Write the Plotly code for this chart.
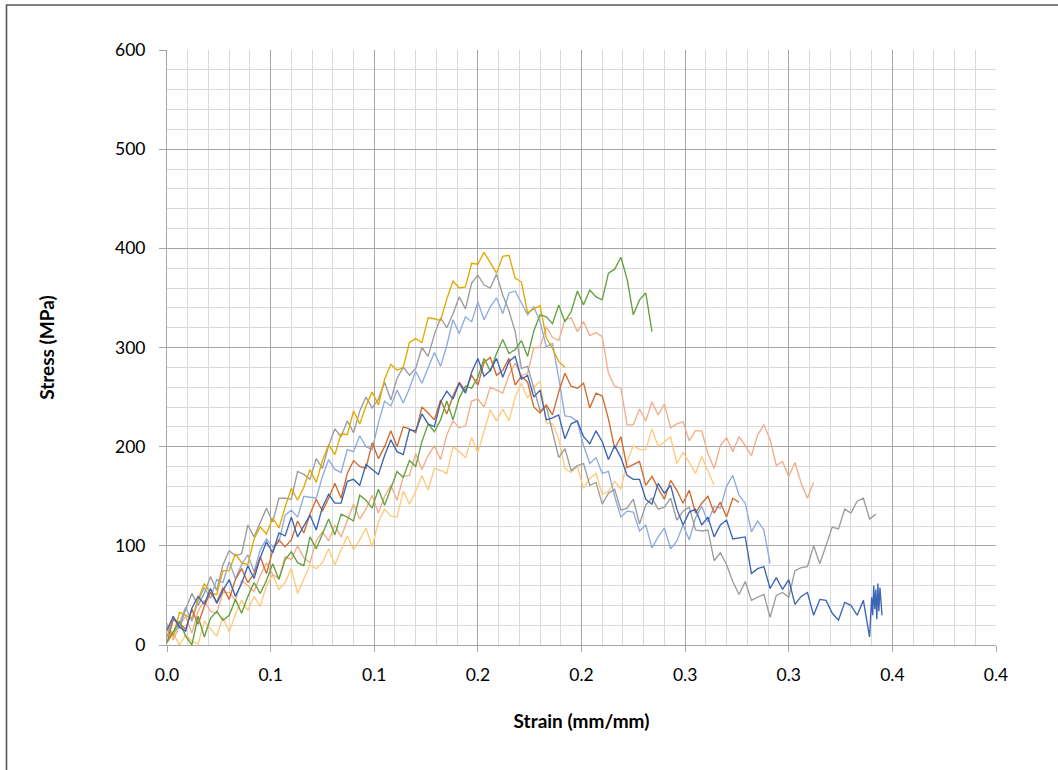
import plotly.graph_objects as go

# Strain sampling grid (mm/mm)
STRAIN = [
    0.000, 0.003, 0.006, 0.009, 0.012, 0.015, 0.018, 0.021, 0.024, 0.027,
    0.030, 0.033, 0.036, 0.039, 0.042, 0.045, 0.048, 0.051, 0.054, 0.057,
    0.060, 0.063, 0.066, 0.069, 0.072, 0.075, 0.078, 0.081, 0.084, 0.087,
    0.090, 0.093, 0.096, 0.099, 0.102, 0.105, 0.108, 0.111, 0.114, 0.117,
    0.120, 0.123, 0.126, 0.129, 0.132, 0.135, 0.138, 0.141, 0.144, 0.147,
    0.150, 0.153, 0.156, 0.159, 0.162, 0.165, 0.168, 0.171, 0.174, 0.177,
    0.180, 0.183, 0.186, 0.189, 0.192, 0.195, 0.198, 0.201, 0.204, 0.207,
    0.210, 0.213, 0.216, 0.219, 0.222, 0.225, 0.228, 0.231, 0.234, 0.237,
    0.240, 0.243, 0.246, 0.249, 0.252, 0.255, 0.258, 0.261, 0.264, 0.267,
    0.270, 0.273, 0.276, 0.279, 0.282, 0.285, 0.288, 0.291, 0.294, 0.297,
    0.300, 0.303, 0.306, 0.309, 0.312, 0.315, 0.318, 0.321, 0.324, 0.327,
    0.330, 0.333, 0.336, 0.339, 0.342, 0.345,
]

# Stress (MPa) per specimen
STRESS_PEACH = [
    2, 12, 0, 10, 4, 1, 24, 17, 9, 28,
    13, 31, 45, 35, 49, 39, 60, 71, 56, 63,
    77, 52, 67, 81, 77, 83, 97, 81, 96, 110,
    96, 106, 118, 99, 124, 137, 130, 129, 155, 142,
    155, 171, 156, 178, 176, 173, 200, 195, 189, 209,
    194, 216, 237, 226, 238, 226, 250, 264, 249, 260,
    266, 224, 223, 208, 178, 174, 180, 158, 168, 173,
    152, 155, 165, 157, 185, 201, 197, 197, 218, 200,
    205, 210, 183, 194, 184, 173, 190, 176, 161,
]

STRESS_SALMON = [
    22, 5, 19, 29, 12, 34, 45, 34, 32, 53,
    53, 45, 65, 60, 54, 70, 83, 71, 67, 89,
    86, 100, 88, 83, 105, 114, 105, 121, 109, 126,
    142, 127, 137, 151, 133, 150, 161, 146, 170, 171,
    193, 177, 191, 201, 187, 212, 226, 219, 221, 246,
    248, 240, 260, 257, 254, 272, 284, 272, 274, 300,
    300, 321, 310, 307, 328, 330, 316, 326, 312, 315,
    311, 274, 261, 259, 222, 222, 238, 226, 245, 232,
    243, 219, 223, 225, 206, 216, 216, 193, 178, 201,
    209, 195, 210, 201, 191, 212, 222, 207, 181, 185,
    170, 184, 163, 148, 164,
]

STRESS_LIGHTBLUE = [
    20, 10, 22, 38, 24, 44, 58, 47, 66, 63,
    84, 67, 81, 91, 74, 96, 107, 99, 104, 131,
    136, 129, 150, 149, 148, 170, 187, 177, 174, 197,
    195, 211, 200, 197, 224, 246, 241, 257, 244, 259,
    276, 264, 279, 295, 281, 302, 328, 314, 331, 326,
    346, 328, 341, 350, 334, 355, 357, 345, 333, 341,
    326, 301, 304, 269, 231, 230, 225, 201, 183, 189,
    173, 175, 150, 129, 135, 134, 115, 121, 98, 109,
    118, 97, 105, 121, 106, 128, 140, 124, 140, 138,
    160, 171, 151, 143, 114, 125, 116, 82,
]

STRESS_GRAY = [
    8, 28, 17, 36, 52, 40, 52, 69, 55, 81,
    95, 90, 92, 121, 109, 123, 138, 124, 148, 148,
    147, 175, 172, 167, 188, 178, 201, 218, 210, 226,
    214, 236, 250, 239, 248, 265, 247, 269, 280, 272,
    279, 300, 291, 313, 330, 320, 334, 351, 339, 365,
    373, 363, 360, 374, 353, 337, 316, 279, 281, 259,
    236, 241, 216, 189, 198, 176, 181, 183, 161, 164,
    142, 153, 157, 136, 138, 147, 122, 141, 148, 137,
    139, 148, 126, 135, 139, 116, 115, 116, 85, 93,
    81, 64, 51, 64, 45, 48, 51, 28, 50, 53,
    48, 75, 78, 79, 100, 82, 101, 119, 117, 137,
    133, 145, 148, 127, 132,
]

STRESS_GOLD = [
    15, 9, 33, 30, 27, 46, 62, 52, 51, 75,
    75, 92, 83, 81, 107, 119, 112, 128, 118, 139,
    158, 146, 159, 177, 164, 186, 202, 192, 213, 212,
    236, 223, 241, 255, 242, 268, 283, 277, 280, 305,
    309, 305, 330, 329, 327, 349, 367, 360, 361, 385,
    384, 396, 385, 375, 392, 393, 370, 366, 335, 339,
    342, 310, 299, 286, 280,
]

STRESS_ORANGE = [
    2, 26, 22, 16, 36, 21, 39, 53, 43, 58,
    46, 66, 77, 63, 72, 89, 72, 95, 106, 99,
    106, 125, 113, 132, 147, 135, 148, 163, 148, 173,
    186, 180, 178, 204, 188, 200, 216, 200, 220, 218,
    214, 240, 234, 227, 247, 233, 251, 265, 256, 272,
    262, 285, 290, 272, 277, 289, 262, 271, 265, 240,
    234, 242, 232, 255, 274, 261, 259, 264, 239, 254,
    251, 228, 198, 210, 179, 182, 185, 161, 170, 158,
    147, 166, 156, 143, 156, 133, 143, 150, 133, 144,
    129, 148, 144,
]

STRESS_GREEN = [
    3, 13, 24, 9, 0, 29, 8, 27, 34, 25,
    30, 46, 32, 49, 63, 52, 65, 82, 66, 86,
    94, 83, 80, 109, 97, 112, 127, 111, 132, 129,
    125, 151, 146, 138, 157, 141, 158, 175, 169, 186,
    180, 205, 223, 215, 227, 246, 227, 249, 261, 259,
    270, 289, 276, 294, 308, 294, 298, 307, 291, 317,
    333, 331, 324, 343, 326, 336, 357, 343, 358, 351,
    348, 375, 379, 391, 369, 333, 348, 355, 316,
]

STRESS_BLUE = [
    15, 29, 18, 14, 37, 49, 41, 57, 42, 55,
    66, 49, 62, 80, 67, 88, 104, 93, 113, 110,
    129, 109, 120, 131, 116, 139, 152, 143, 143, 165,
    167, 161, 182, 177, 172, 191, 207, 195, 192, 217,
    216, 233, 223, 220, 245, 256, 248, 264, 254, 275,
    289, 271, 277, 289, 270, 286, 291, 268, 272, 250,
    257, 227, 229, 232, 208, 223, 226, 210, 203, 216,
    205, 187, 201, 189, 171, 167, 167, 147, 142, 163,
    153, 161, 137, 121, 134, 137, 121, 129, 109, 121,
    126, 107, 108, 109, 72, 77, 79, 57, 68, 56,
    66, 41, 49, 53, 30, 46, 45, 32, 25, 43,
    40, 30, 45, 8,
]
# dense end of the blue record
BLUE_TAIL_STRAIN = [0.3400, 0.3405, 0.3410, 0.3415, 0.3420, 0.3425,
                    0.3430, 0.3435, 0.3440, 0.3445, 0.3450]
BLUE_TAIL_STRESS = [48, 30, 60, 36, 56, 26, 62, 34, 58, 40, 30]

X_TICK_VALUES = [0.0, 0.05, 0.10, 0.15, 0.20, 0.25, 0.30, 0.35, 0.40]
X_TICK_LABELS = ["0.0", "0.1", "0.1", "0.2", "0.2", "0.3", "0.3", "0.4", "0.4"]
Y_TICK_VALUES = [0, 100, 200, 300, 400, 500, 600]
Y_TICK_LABELS = ["0", "100", "200", "300", "400", "500", "600"]

SERIES = [
    ("Specimen 8", STRAIN[:len(STRESS_PEACH)], STRESS_PEACH, "#FFC97A"),
    ("Specimen 7", STRAIN[:len(STRESS_SALMON)], STRESS_SALMON, "#F3AC88"),
    ("Specimen 5", STRAIN[:len(STRESS_LIGHTBLUE)], STRESS_LIGHTBLUE, "#8FAADC"),
    ("Specimen 3", STRAIN[:len(STRESS_GRAY)], STRESS_GRAY, "#9C9C9C"),
    ("Specimen 4", STRAIN[:len(STRESS_GOLD)], STRESS_GOLD, "#E2A900"),
    ("Specimen 2", STRAIN[:len(STRESS_ORANGE)], STRESS_ORANGE, "#D4692C"),
    ("Specimen 6", STRAIN[:len(STRESS_GREEN)], STRESS_GREEN, "#64A03C"),
    ("Specimen 1", STRAIN[:len(STRESS_BLUE)] + BLUE_TAIL_STRAIN,
     STRESS_BLUE + BLUE_TAIL_STRESS, "#3A64B4"),
]

W, H = 1058, 770
L, R, T, B = 167, 62, 50, 125
PW, PH = W - L - R, H - T - B

fig = go.Figure()
for name, xs, ys, color in SERIES:
    fig.add_trace(go.Scatter(x=xs, y=ys, mode="lines", name=name,
                             line=dict(color=color, width=1.35),
                             showlegend=False, hoverinfo="skip"))

FONT = "Lato, 'Open Sans', sans-serif"
fig.update_layout(
    width=W, height=H,
    margin=dict(l=L, r=R, t=T, b=B, pad=0),
    paper_bgcolor="white", plot_bgcolor="white",
    font=dict(family=FONT, color="#000000"),
    xaxis=dict(
        range=[0, 0.4], tickmode="array", tickvals=X_TICK_VALUES, ticktext=X_TICK_LABELS,
        showgrid=True, gridcolor="#A6A6A6", gridwidth=1,
        minor=dict(dtick=0.01, showgrid=True, gridcolor="#D9D9D9", gridwidth=1,
                   ticks=""),
        ticks="outside", ticklen=6, tickcolor="#A6A6A6", tickwidth=1,
        showline=True, linecolor="#A6A6A6", linewidth=1, zeroline=False,
        tickfont=dict(size=17.5, family=FONT, color="#000000"),
        ticklabelstandoff=8,
        title=dict(text="Strain (mm/mm)", standoff=30,
                   font=dict(size=19, family=FONT, weight="bold", color="#000000")),
    ),
    yaxis=dict(
        range=[0, 600], tickmode="array", tickvals=Y_TICK_VALUES, ticktext=Y_TICK_LABELS,
        showgrid=True, gridcolor="#A6A6A6", gridwidth=1,
        minor=dict(dtick=20, showgrid=True, gridcolor="#D9D9D9", gridwidth=1,
                   ticks=""),
        ticks="outside", ticklen=7, tickcolor="#A6A6A6", tickwidth=1,
        showline=True, linecolor="#A6A6A6", linewidth=1, zeroline=False,
        tickfont=dict(size=17.5, family=FONT, color="#000000"),
        ticklabelstandoff=10,
        title=dict(text="Stress (MPa)", standoff=55,
                   font=dict(size=19, family=FONT, weight="bold", color="#000000")),
    ),
)

# outer chart border (only the left and top edges fall inside the window)
fig.add_shape(type="rect", xref="paper", yref="paper",
              x0=(6.5 - L) / PW, x1=(W + 20 - L) / PW,
              y0=(T + PH - (H + 20)) / PH, y1=(T + PH - 5) / PH,
              line=dict(color="#595959", width=1.6), layer="above")

fig.write_html("out.html", config={"displayModeBar": False},
               post_script="document.body.style.margin='0';document.body.style.overflow='hidden';")
